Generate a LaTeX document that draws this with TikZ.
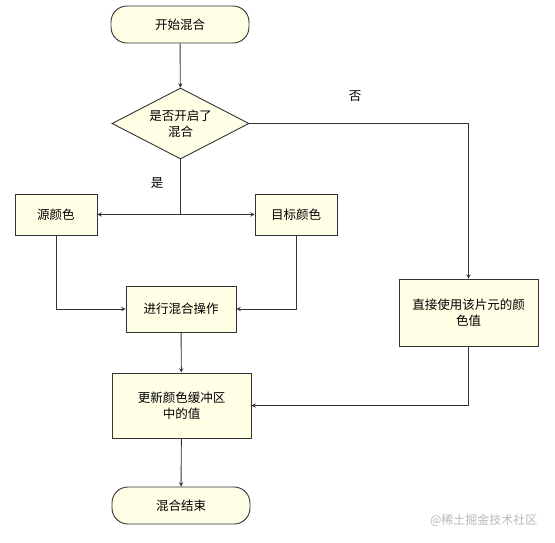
\documentclass[tikz,border=0pt]{standalone}
\usepackage{fontspec}
\newfontfamily\cjk{Noto Sans CJK SC}
\usetikzlibrary{shapes.geometric}
\definecolor{boxfill}{RGB}{255,255,230}
\definecolor{linecol}{RGB}{51,51,51}
\tikzset{
	base/.style={draw=linecol,fill=boxfill,line width=0.9pt,align=center,inner sep=0pt,font=\cjk\fontsize{12.5}{16}\selectfont},
	terminal/.style={base,rounded corners=16pt,minimum width=138pt,minimum height=37pt},
	process/.style={base,rectangle},
	decision/.style={base,diamond,aspect=1.93,minimum width=137pt,minimum height=71pt},
	conn/.style={draw=linecol,line width=0.9pt,->}
}
\begin{document}
\begin{tikzpicture}[>=stealth,x=1pt,y=-1pt]
		\useasboundingbox (0,0) rectangle (555,542);
		\node[terminal] (start) at (180,24.5) {开始混合};
		\node[decision] (check) at (180.5,123.5) {是否开启了\\混合};
		\node[process,minimum width=82pt,minimum height=41pt] (src) at (56,214.5) {源颜色};
		\node[process,minimum width=82pt,minimum height=41pt] (dst) at (296,214.5) {目标颜色};
		\node[process,minimum width=110pt,minimum height=46pt] (mix) at (181,309) {进行混合操作};
		\node[process,minimum width=139pt,minimum height=67pt] (direct) at (468.5,312.5) {直接使用该片元的颜\\色值};
		\node[process,minimum width=139pt,minimum height=65pt] (update) at (181.5,405.5) {更新颜色缓冲区\\中的值};
		\node[terminal] (finish) at (181,505.5) {混合结束};
		\coordinate (split) at (180.5,214.5);
		\node[font=\cjk\fontsize{12.5}{16}\selectfont] (yes) at (157,183) {是};
		\node[font=\cjk\fontsize{12.5}{16}\selectfont] (no) at (355,96) {否};
		\node[font=\cjk\fontsize{12}{16}\selectfont,text=black!28,anchor=east] (mark) at (541,520) {@稀土掘金技术社区};
		\draw[conn] (start) -- (check);
		\draw[draw=linecol,line width=0.9pt] (check.south) -- (split);
		\draw[conn] (split) -- (src);
		\draw[conn] (split) -- (dst);
		\draw[conn] (check.east) -| (direct.north);
		\draw[conn] (src.south) |- (mix.west);
		\draw[conn] (dst.south) |- (mix.east);
		\draw[conn] (mix) -- (update);
		\draw[conn] (direct.south) |- (update.east);
		\draw[conn] (update) -- (finish);
		\end{tikzpicture}
\end{document}
